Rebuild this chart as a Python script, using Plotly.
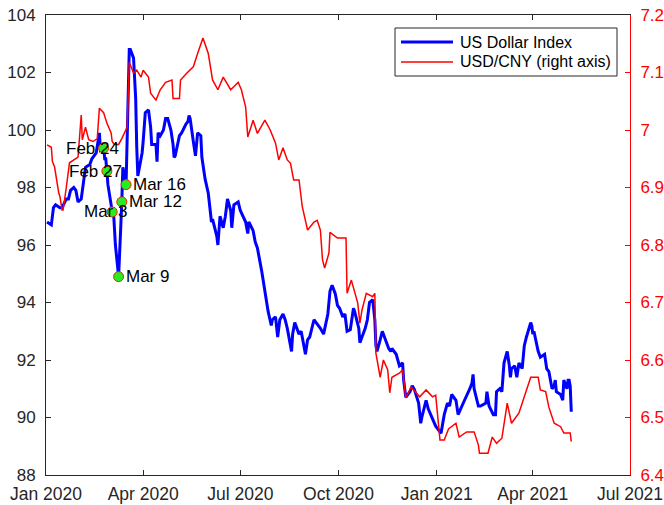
import plotly.graph_objects as go

# ---------------- data ----------------
dxy_dates = [
 "2020-01-02","2020-01-06","2020-01-08","2020-01-10","2020-01-14","2020-01-16","2020-01-20","2020-01-22",
 "2020-01-24","2020-01-27","2020-01-29","2020-01-31","2020-02-03","2020-02-04","2020-02-06","2020-02-07",
 "2020-02-11","2020-02-13","2020-02-17","2020-02-19","2020-02-20","2020-02-21","2020-02-24","2020-02-25",
 "2020-02-26","2020-02-27","2020-02-28","2020-03-02","2020-03-03","2020-03-04","2020-03-05","2020-03-06",
 "2020-03-09","2020-03-10","2020-03-11","2020-03-12","2020-03-13","2020-03-16","2020-03-17","2020-03-18",
 "2020-03-19","2020-03-20","2020-03-23","2020-03-24","2020-03-25","2020-03-26","2020-03-27","2020-03-30",
 "2020-03-31","2020-04-01","2020-04-02","2020-04-03","2020-04-06","2020-04-08","2020-04-09","2020-04-13",
 "2020-04-14","2020-04-15","2020-04-17","2020-04-20","2020-04-22","2020-04-24","2020-04-27","2020-04-29",
 "2020-04-30","2020-05-01","2020-05-05","2020-05-07","2020-05-11","2020-05-13","2020-05-14","2020-05-15",
 "2020-05-18","2020-05-20","2020-05-22","2020-05-25","2020-05-26","2020-05-28","2020-05-29","2020-06-01",
 "2020-06-03","2020-06-04","2020-06-05","2020-06-09","2020-06-10","2020-06-12","2020-06-15","2020-06-17",
 "2020-06-19","2020-06-22","2020-06-23","2020-06-25","2020-06-29","2020-07-01","2020-07-06","2020-07-08",
 "2020-07-09","2020-07-13","2020-07-15","2020-07-17","2020-07-21","2020-07-23","2020-07-24","2020-07-27",
 "2020-07-30","2020-07-31","2020-08-03","2020-08-05","2020-08-07","2020-08-10","2020-08-12","2020-08-14",
 "2020-08-18","2020-08-19","2020-08-21","2020-08-25","2020-08-27","2020-08-31","2020-09-02","2020-09-04",
 "2020-09-08","2020-09-10","2020-09-14","2020-09-17","2020-09-21","2020-09-23","2020-09-25","2020-09-28",
 "2020-09-30","2020-10-02","2020-10-05","2020-10-07","2020-10-09","2020-10-12","2020-10-15","2020-10-16",
 "2020-10-20","2020-10-21","2020-10-23","2020-10-26","2020-10-28","2020-10-30","2020-11-02","2020-11-04",
 "2020-11-05","2020-11-06","2020-11-09","2020-11-11","2020-11-13","2020-11-17","2020-11-19","2020-11-20",
 "2020-11-24","2020-11-27","2020-11-30","2020-12-01","2020-12-03","2020-12-07","2020-12-09","2020-12-11",
 "2020-12-15","2020-12-17","2020-12-18","2020-12-22","2020-12-24","2020-12-29","2020-12-31","2021-01-05",
 "2021-01-07","2021-01-08","2021-01-11","2021-01-13","2021-01-15","2021-01-19","2021-01-21","2021-01-25",
 "2021-01-27","2021-02-01","2021-02-03","2021-02-04","2021-02-05","2021-02-09","2021-02-11","2021-02-16",
 "2021-02-17","2021-02-19","2021-02-23","2021-02-25","2021-02-26","2021-03-01","2021-03-03","2021-03-05",
 "2021-03-08","2021-03-10","2021-03-11","2021-03-12","2021-03-15","2021-03-17","2021-03-19","2021-03-22",
 "2021-03-24","2021-03-26","2021-03-30","2021-03-31","2021-04-01","2021-04-02","2021-04-06","2021-04-08",
 "2021-04-12","2021-04-14","2021-04-16","2021-04-19","2021-04-21","2021-04-22","2021-04-23","2021-04-27",
 "2021-04-29","2021-04-30","2021-05-03","2021-05-04","2021-05-05","2021-05-06","2021-05-07"]
dxy_values = [
 96.8,96.7,97.3,97.4,97.3,97.3,97.6,97.6,
 97.9,98.0,97.9,97.5,97.6,97.9,98.4,98.7,
 98.8,99.0,99.2,99.6,99.9,99.3,99.37,99.0,
 99.0,98.57,98.1,97.4,97.15,97.3,96.7,96.0,
 94.9,96.2,96.6,97.5,98.7,98.1,99.6,101.2,
 102.8,102.8,102.5,101.8,101.1,99.4,98.4,99.0,
 99.2,99.6,100.2,100.6,100.7,100.1,99.5,99.5,
 98.9,99.9,99.8,100.0,100.4,100.4,100.0,99.5,
 99.05,99.1,99.8,99.9,100.2,100.3,100.5,100.4,
 99.6,99.1,99.9,99.8,99.05,98.4,98.3,97.8,
 97.2,96.8,96.9,96.3,96.0,97.0,96.6,97.0,
 97.6,97.2,96.6,97.4,97.5,97.2,96.8,96.4,
 96.8,96.5,96.1,95.9,95.1,94.7,94.4,93.7,
 93.2,93.4,93.5,92.8,93.4,93.6,93.4,93.1,
 92.3,92.9,93.3,92.9,93.0,92.2,92.7,92.8,
 93.4,93.3,93.1,92.9,93.6,94.4,94.6,94.3,
 93.9,93.8,93.5,93.6,93.0,93.05,93.8,93.7,
 93.1,92.6,92.8,93.1,93.4,94.0,94.1,93.4,
 92.5,92.3,92.7,93.0,92.8,92.4,92.3,92.4,
 92.2,91.8,91.9,91.3,90.7,90.9,91.1,90.98,
 90.5,89.8,90.0,90.6,90.3,89.9,89.7,89.45,
 89.9,90.1,90.5,90.4,90.8,90.6,90.1,90.4,
 90.6,91.0,91.2,91.5,91.0,90.4,90.4,90.5,
 90.9,90.4,90.1,90.1,90.9,91.0,90.9,91.9,
 92.3,91.8,91.4,91.7,91.8,91.4,91.9,91.7,
 92.5,92.8,93.3,93.2,92.9,93.0,92.3,92.1,
 92.2,91.7,91.6,91.0,91.1,91.3,90.9,90.8,
 90.6,91.3,91.0,91.3,91.3,91.1,90.2]

cny_dates = [
 "2020-01-02","2020-01-06","2020-01-07","2020-01-09","2020-01-13","2020-01-14","2020-01-16","2020-01-17",
 "2020-01-20","2020-01-21","2020-01-23","2020-01-31","2020-02-03","2020-02-04","2020-02-07","2020-02-10",
 "2020-02-14","2020-02-18","2020-02-20","2020-02-24","2020-02-27","2020-03-02","2020-03-03","2020-03-05",
 "2020-03-09","2020-03-12","2020-03-16","2020-03-17","2020-03-19","2020-03-23","2020-03-26","2020-03-30",
 "2020-04-01","2020-04-06","2020-04-08","2020-04-13","2020-04-17","2020-04-22","2020-04-28","2020-04-29",
 "2020-05-05","2020-05-06","2020-05-12","2020-05-18","2020-05-22","2020-05-27","2020-06-01","2020-06-05",
 "2020-06-10","2020-06-15","2020-06-22","2020-06-29","2020-07-02","2020-07-06","2020-07-08","2020-07-13",
 "2020-07-17","2020-07-24","2020-07-29","2020-08-03","2020-08-06","2020-08-10","2020-08-14","2020-08-17",
 "2020-08-20","2020-08-25","2020-08-28","2020-09-02","2020-09-08","2020-09-11","2020-09-14","2020-09-16",
 "2020-09-18","2020-09-22","2020-09-23","2020-09-30","2020-10-08","2020-10-09","2020-10-13","2020-10-19",
 "2020-10-21","2020-10-23","2020-10-27","2020-11-02","2020-11-04","2020-11-05","2020-11-09","2020-11-12",
 "2020-11-16","2020-11-18","2020-11-20","2020-11-27","2020-11-30","2020-12-03","2020-12-08","2020-12-16",
 "2020-12-22","2020-12-28","2020-12-31","2021-01-04","2021-01-08","2021-01-12","2021-01-19","2021-01-22",
 "2021-01-29","2021-02-05","2021-02-09","2021-02-10","2021-02-18","2021-02-22","2021-02-26","2021-03-03",
 "2021-03-08","2021-03-12","2021-03-19","2021-03-30","2021-04-06","2021-04-08","2021-04-13","2021-04-16",
 "2021-04-21","2021-04-27","2021-04-30","2021-05-06","2021-05-07"]
cny_values = [
 6.974,6.970,6.945,6.936,6.890,6.885,6.861,6.861,
 6.900,6.915,6.943,6.953,7.026,6.983,7.005,6.983,
 6.980,6.985,7.038,7.030,7.012,6.995,6.980,6.975,
 6.975,6.985,7.000,7.005,7.118,7.099,7.104,7.092,
 7.104,7.092,7.064,7.052,7.070,7.083,7.087,7.055,
 7.055,7.087,7.099,7.110,7.133,7.160,7.133,7.087,
 7.070,7.092,7.070,7.083,7.070,7.040,6.988,7.017,
 6.994,7.017,7.000,6.977,6.948,6.969,6.948,6.942,
 6.913,6.913,6.867,6.826,6.840,6.843,6.826,6.774,
 6.760,6.786,6.822,6.812,6.812,6.716,6.739,6.699,
 6.664,6.687,6.716,6.710,6.716,6.612,6.570,6.600,
 6.583,6.543,6.570,6.577,6.583,6.534,6.553,6.536,
 6.548,6.536,6.539,6.461,6.461,6.480,6.490,6.466,
 6.475,6.475,6.452,6.438,6.438,6.466,6.455,6.464,
 6.525,6.490,6.508,6.570,6.570,6.548,6.545,6.518,
 6.490,6.484,6.473,6.473,6.458]

series_names = ["US Dollar Index", "USD/CNY (right axis)"]

event_dates = ["2020-02-24", "2020-02-27", "2020-03-03", "2020-03-09", "2020-03-12", "2020-03-16"]
event_labels = ["Feb 24", "Feb 27", "Mar 3", "Mar 9", "Mar 12", "Mar 16"]
event_side = ["right", "right", "right", "left", "left", "left"]

x_tick_dates = ["2020-01-01", "2020-04-01", "2020-07-01", "2020-10-01", "2021-01-01", "2021-04-01", "2021-07-01"]
x_tick_labels = ["Jan 2020", "Apr 2020", "Jul 2020", "Oct 2020", "Jan 2021", "Apr 2021", "Jul 2021"]
left_ticks = [88, 90, 92, 94, 96, 98, 100, 102, 104]
right_ticks = [6.4, 6.5, 6.6, 6.7, 6.8, 6.9, 7.0, 7.1, 7.2]
right_tick_labels = ["6.4", "6.5", "6.6", "6.7", "6.8", "6.9", "7", "7.1", "7.2"]

# ---------------- figure ----------------
FONT = "Liberation Sans, Arial, sans-serif"
AX = "#262626"
BLUE = "#0000FF"
RED = "#FF0000"
W, H = 664, 505
ML, MR, MT, MB = 46, 34, 15, 30
PW, PH = W - ML - MR, H - MT - MB


def px_x(p):
    return (p - ML) / PW


def px_y(p):
    return 1 - (p - MT) / PH


event_values = [dxy_values[dxy_dates.index(d)] for d in event_dates]

fig = go.Figure()
fig.add_trace(go.Scatter(x=dxy_dates, y=dxy_values, mode="lines", name=series_names[0],
                         line=dict(color=BLUE, width=3), yaxis="y", showlegend=False))
fig.add_trace(go.Scatter(x=cny_dates, y=cny_values, mode="lines", name=series_names[1],
                         line=dict(color=RED, width=1.5), yaxis="y2", showlegend=False))
fig.add_trace(go.Scatter(x=event_dates, y=event_values, mode="markers", showlegend=False,
                         marker=dict(size=10, color="#22EE22", line=dict(color="#FF2200", width=1)),
                         yaxis="y"))

for d, v, lab, side in zip(event_dates, event_values, event_labels, event_side):
    if side == "right":
        fig.add_annotation(x=d, y=v, xref="x", yref="y", text=lab, showarrow=False,
                           xanchor="right", yanchor="middle", xshift=17,
                           font=dict(family=FONT, size=17, color="#000000"))
    else:
        fig.add_annotation(x=d, y=v, xref="x", yref="y", text=lab, showarrow=False,
                           xanchor="left", yanchor="middle", xshift=5,
                           font=dict(family=FONT, size=17, color="#000000"))

# legend box drawn in paper coordinates (MATLAB style)
fig.add_shape(type="rect", xref="paper", yref="paper",
              x0=px_x(395), x1=px_x(617), y0=px_y(76), y1=px_y(28),
              line=dict(color=AX, width=1), fillcolor="white", layer="above")
for name, col, wid, yy in [(series_names[0], BLUE, 3, 42), (series_names[1], RED, 1.5, 62)]:
    fig.add_shape(type="line", xref="paper", yref="paper",
                  x0=px_x(401), x1=px_x(453), y0=px_y(yy), y1=px_y(yy),
                  line=dict(color=col, width=wid), layer="above")
    fig.add_annotation(xref="paper", yref="paper", x=px_x(458), y=px_y(yy), text=name,
                       showarrow=False, xanchor="left", yanchor="middle",
                       font=dict(family=FONT, size=16, color="#000000"))

fig.update_layout(
    width=W, height=H, autosize=False,
    margin=dict(l=ML, r=MR, t=MT, b=MB, pad=0),
    paper_bgcolor="white", plot_bgcolor="white",
    font=dict(family=FONT, size=17, color=AX),
    showlegend=False,
    xaxis=dict(type="date", range=["2020-01-01", "2021-07-01"], automargin=False,
               tickvals=x_tick_dates, ticktext=x_tick_labels, ticklabelstandoff=3,
               ticks="inside", ticklen=5, tickcolor=AX, showgrid=False, zeroline=False,
               showline=True, linecolor=AX, linewidth=1, mirror="ticks",
               tickfont=dict(family=FONT, size=17.5, color=AX)),
    yaxis=dict(range=[88, 104], tickvals=left_ticks, ticks="inside", ticklen=5, tickcolor=AX,
               automargin=False, ticklabelstandoff=6,
               showgrid=False, zeroline=False, showline=True, linecolor=AX, linewidth=1,
               tickfont=dict(family=FONT, size=17, color=AX)),
    yaxis2=dict(range=[6.4, 7.2], tickvals=right_ticks, ticktext=right_tick_labels,
                overlaying="y", side="right", ticks="inside", ticklen=5, tickcolor=RED,
                automargin=False, ticklabelstandoff=6,
                showgrid=False, zeroline=False, showline=True, linecolor=RED, linewidth=1,
                tickfont=dict(family=FONT, size=17, color=RED)),
)

fig.write_html("out.html")
